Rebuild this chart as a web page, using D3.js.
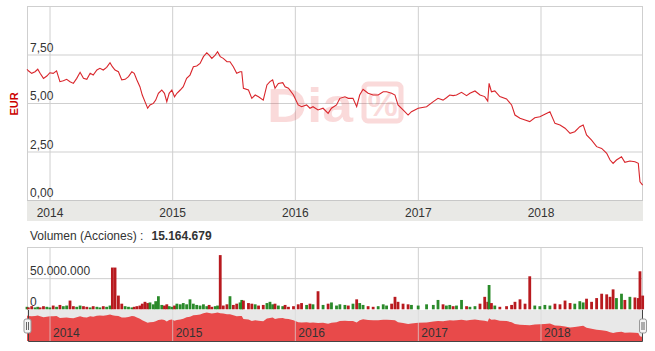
<!DOCTYPE html>
<html>
<head>
<meta charset="utf-8">
<script src="https://cdn.jsdelivr.net/npm/d3@7"></script>
<style>
  body { margin: 0; background: #fff; }
  svg { display: block; font-family: "Liberation Sans", Arial, sans-serif; }
</style>
</head>
<body>
<div id="chart"></div>
<script>
// price readings (EUR) and volumes (millions of shares) at the same dates
var dates = ["2013-10-26","2013-10-30","2013-11-09","2013-11-19","2013-11-27","2013-12-04","2013-12-14","2013-12-24",
  "2014-01-02","2014-01-12","2014-01-22","2014-02-01","2014-02-11","2014-02-21","2014-03-03","2014-03-13","2014-03-23",
  "2014-04-02","2014-04-12","2014-04-22","2014-05-02","2014-05-11","2014-05-22","2014-05-31","2014-06-10","2014-06-20",
  "2014-06-30","2014-07-07","2014-07-15","2014-07-25","2014-08-04","2014-08-14","2014-08-24","2014-09-03","2014-09-10",
  "2014-09-18","2014-09-27","2014-10-04","2014-10-12","2014-10-20","2014-10-27","2014-11-06","2014-11-13","2014-11-21",
  "2014-12-01","2014-12-09","2014-12-16","2014-12-23","2014-12-31","2015-01-08","2015-01-15","2015-01-25","2015-02-03",
  "2015-02-13","2015-02-23","2015-03-05","2015-03-15","2015-03-25","2015-04-04","2015-04-14","2015-04-21","2015-04-29",
  "2015-05-09","2015-05-16","2015-05-24","2015-06-02","2015-06-13","2015-06-22","2015-07-02","2015-07-12","2015-07-22",
  "2015-07-27","2015-08-01","2015-08-16","2015-08-26","2015-09-05","2015-09-15","2015-09-29","2015-10-10","2015-10-19",
  "2015-10-27","2015-11-03","2015-11-13","2015-11-26","2015-12-03","2015-12-13","2015-12-28","2016-01-11","2016-01-21",
  "2016-02-05","2016-02-15","2016-02-24","2016-03-10","2016-03-25","2016-04-09","2016-04-19","2016-05-04","2016-05-14",
  "2016-05-29","2016-06-08","2016-06-22","2016-07-03","2016-07-12","2016-07-22","2016-08-06","2016-08-21","2016-09-05",
  "2016-09-20","2016-09-30","2016-10-15","2016-10-25","2016-11-03","2016-11-18","2016-12-03","2016-12-13","2017-01-02",
  "2017-01-27","2017-02-16","2017-03-02","2017-03-17","2017-03-27","2017-04-06","2017-04-16","2017-04-26","2017-05-11",
  "2017-05-26","2017-06-05","2017-06-20","2017-07-05","2017-07-19","2017-07-28","2017-08-01","2017-08-08","2017-08-18",
  "2017-09-02","2017-09-22","2017-10-07","2017-10-17","2017-11-01","2017-11-16","2017-11-30","2017-12-15","2017-12-30",
  "2018-01-14","2018-01-29","2018-02-13","2018-02-28","2018-03-15","2018-03-30","2018-04-13","2018-04-28","2018-05-08",
  "2018-05-18","2018-06-02","2018-06-17","2018-07-02","2018-07-17","2018-07-27","2018-08-05","2018-08-15","2018-08-30",
  "2018-09-09","2018-09-24","2018-10-09","2018-10-19","2018-10-24","2018-11-01"];

var prices = [6.74,6.66,6.53,6.61,6.74,6.53,6.27,6.39,
  6.56,6.53,6.66,6.10,6.15,6.22,6.10,6.01,6.27,
  6.58,6.27,6.22,6.53,6.44,6.70,6.79,6.70,6.84,
  7.08,6.87,6.70,6.61,6.19,6.22,6.36,6.61,6.53,
  6.19,5.84,5.41,5.07,4.73,4.90,4.98,5.15,5.50,
  5.67,5.50,5.07,5.50,5.67,5.32,5.50,5.67,5.84,
  6.27,6.44,6.87,6.91,7.04,7.39,7.59,7.47,7.30,
  7.47,7.64,7.39,7.30,7.13,7.13,6.87,6.53,6.61,
  6.61,5.76,5.67,5.24,5.41,5.32,5.15,5.93,6.10,
  6.19,5.76,6.01,6.05,5.84,5.76,5.41,4.90,4.81,
  4.90,4.73,4.81,4.64,4.73,4.47,4.73,4.90,5.24,
  5.32,5.24,5.24,4.81,5.41,5.71,5.50,5.41,5.41,
  5.58,5.58,5.50,5.41,4.90,4.64,4.38,4.55,4.73,
  4.81,5.07,5.24,5.15,5.27,5.41,5.38,5.41,5.55,
  5.38,5.50,5.62,5.41,5.33,5.10,6.01,5.58,5.62,
  5.33,5.21,4.90,4.38,4.21,4.12,4.04,4.24,4.29,
  4.42,4.55,3.95,3.87,3.70,3.44,3.52,3.78,3.87,
  3.35,3.09,2.75,2.66,2.41,2.06,1.89,2.06,2.23,
  1.94,2.01,1.97,1.89,0.94,0.77];

var volumes = [4,3,5,3,4,3,5,4,
  3,6,4,7,5,6,14,5,4,
  6,5,4,3,5,4,3,5,4,
  6,67,67,22,9,5,4,3,4,
  5,6,9,12,10,11,8,13,21,
  7,6,8,5,4,6,9,8,10,
  8,16,9,7,6,8,5,7,4,
  5,6,87,6,8,21,7,9,11,
  15,14,10,9,8,6,7,10,12,
  8,9,6,5,7,4,5,8,10,
  7,9,8,29,7,9,11,6,8,
  7,6,9,16,10,7,5,4,5,
  8,6,9,20,12,9,8,7,6,
  8,7,15,8,6,7,5,6,15,
  5,4,5,9,20,12,39,10,6,
  4,5,7,12,16,9,53,6,5,
  7,6,9,8,14,10,9,13,11,
  17,12,18,25,24,20,32,18,25,
  15,20,19,18,61,22];

var yearTicks = ["2014-01-01","2015-01-01","2016-01-01","2017-01-01","2018-01-01"];
var priceTicks = [0, 2.5, 5, 7.5];
var volumeTicks = [0, 50000000];
var lastVolume = 15164679;

var W = 655, H = 351;
var parse = d3.timeParse("%Y-%m-%d");
var loc = d3.formatLocale({decimal: ",", thousands: ".", grouping: [3], currency: ["", " €"]});
var fmtPrice = loc.format(",.2f"), fmtVol = loc.format(",.0f");

var data = dates.map(function(d, i) {
  return {date: parse(d), price: prices[i], vol: volumes[i] * 1e6,
          up: i == 0 ? true : prices[i] >= prices[i - 1]};
});

var left = 27, right = 643;
var x = d3.scaleTime().domain([parse("2013-10-26"), parse("2018-11-02")]).range([left, right]);
var y = d3.scaleLinear().domain([0, 10]).range([200, 6]);
var yv = d3.scaleLinear().domain([0, 100e6]).range([309.3, 247]);
var yn = d3.scaleLinear().domain([0.75, 7.75]).range([337, 312]);
var years = yearTicks.map(parse);

var svg = d3.select("#chart").append("svg").attr("width", W).attr("height", H);
var grid = "#cfcfcf", txt = "#333";

// ---- price panel
svg.append("g")
  .call(d3.axisLeft(y).tickValues([0, 2.5, 5, 7.5, 10]).tickSize(-(right - left)).tickFormat(""))
  .attr("transform", "translate(" + left + ",0)")
  .call(function(g) { g.select(".domain").remove(); g.selectAll("line").attr("stroke", grid); });

svg.append("g").attr("transform", "translate(0,200)")
  .call(d3.axisBottom(x).tickValues(years).tickSize(-194).tickFormat(""))
  .call(function(g) { g.select(".domain").remove(); g.selectAll("line").attr("stroke", grid); });

svg.append("line").attr("x1", left + 0.5).attr("x2", left + 0.5).attr("y1", 6).attr("y2", 200).attr("stroke", grid);
svg.append("line").attr("x1", right - 0.5).attr("x2", right - 0.5).attr("y1", 6).attr("y2", 200).attr("stroke", grid);

svg.selectAll(".plab").data(priceTicks).enter().append("text")
  .attr("x", 30).attr("y", function(d) { return y(d) - 3; })
  .attr("font-size", 12).attr("fill", txt).text(fmtPrice);

svg.append("text").attr("transform", "translate(17.5,104) rotate(-90)")
  .attr("text-anchor", "middle").attr("font-size", 11).attr("font-weight", "bold")
  .attr("fill", "#cc0000").text("EUR");

// watermark
var wm = svg.append("g").attr("opacity", 0.18);
wm.append("text").attr("x", 267).attr("y", 122).attr("font-size", 48).attr("font-weight", "bold")
  .attr("textLength", 86).attr("lengthAdjust", "spacingAndGlyphs").attr("fill", "#e8363a").text("Dia");
wm.append("rect").attr("x", 364).attr("y", 84).attr("width", 37).attr("height", 37).attr("rx", 4)
  .attr("fill", "none").attr("stroke", "#e8363a").attr("stroke-width", 5);
wm.append("text").attr("x", 382.5).attr("y", 116).attr("text-anchor", "middle").attr("font-size", 34)
  .attr("font-weight", "bold").attr("fill", "#e8363a").text("%");

svg.append("path").datum(data)
  .attr("fill", "none").attr("stroke", "#d9252b").attr("stroke-width", 1.1)
  .attr("d", d3.line().x(function(d) { return x(d.date); }).y(function(d) { return y(d.price); }));

// x axis band
svg.append("rect").attr("x", left).attr("y", 200).attr("width", right - left).attr("height", 21).attr("fill", "#e9e9e6");
svg.append("line").attr("x1", left).attr("x2", right).attr("y1", 200.5).attr("y2", 200.5).attr("stroke", "#c8c8c8");
svg.append("g").attr("transform", "translate(0,200)")
  .call(d3.axisBottom(x).tickValues(years).tickSize(0).tickPadding(8).tickFormat(d3.timeFormat("%Y")))
  .call(function(g) {
    g.select(".domain").remove();
    g.selectAll("text").attr("font-size", 12).attr("fill", txt).attr("font-family", "Liberation Sans, Arial");
  });

// ---- volume panel
var vt = svg.append("text").attr("x", 30).attr("y", 240).attr("font-size", 12).attr("fill", txt);
vt.append("tspan").text("Volumen (Acciones) :  ");
vt.append("tspan").attr("font-weight", "bold").attr("x", 151.5).text(fmtVol(lastVolume));

svg.append("g").attr("transform", "translate(" + left + ",0)")
  .call(d3.axisLeft(yv).tickValues([50e6, 100e6]).tickSize(-(right - left)).tickFormat(""))
  .call(function(g) { g.select(".domain").remove(); g.selectAll("line").attr("stroke", grid); });
svg.append("g").attr("transform", "translate(0,310)")
  .call(d3.axisBottom(x).tickValues(years).tickSize(-63).tickFormat(""))
  .call(function(g) { g.select(".domain").remove(); g.selectAll("line").attr("stroke", grid); });
svg.append("line").attr("x1", left + 0.5).attr("x2", left + 0.5).attr("y1", 247).attr("y2", 310).attr("stroke", grid);
svg.append("line").attr("x1", right - 0.5).attr("x2", right - 0.5).attr("y1", 247).attr("y2", 310).attr("stroke", grid);

svg.selectAll(".vlab").data(volumeTicks).enter().append("text")
  .attr("x", 30).attr("y", function(d) { return yv(d) - 3; })
  .attr("font-size", 12).attr("fill", txt).text(fmtVol);

svg.append("g").selectAll("rect").data(data).enter().append("rect")
  .attr("x", function(d) { return x(d.date) - 1.4; })
  .attr("width", 2.8)
  .attr("y", function(d) { return yv(d.vol); })
  .attr("height", function(d) { return yv(0) - yv(d.vol); })
  .attr("fill", function(d) { return d.up ? "#2a8a2a" : "#b81a1f"; });

// ---- navigator
svg.append("rect").attr("x", left).attr("y", 310).attr("width", right - left).attr("height", 31).attr("fill", "#e8e8e8");
svg.append("path").datum(data).attr("fill", "#e84a4a")
  .attr("d", d3.area().x(function(d) { return x(d.date); }).y0(341).y1(function(d) { return yn(d.price); }));
svg.append("g").attr("transform", "translate(0,341)")
  .call(d3.axisBottom(x).tickValues(years).tickSize(-31).tickFormat(""))
  .call(function(g) { g.select(".domain").remove(); g.selectAll("line").attr("stroke", "#d8d8d8").attr("stroke-opacity", 0.7); });
svg.selectAll(".nlab").data(years).enter().append("text")
  .attr("x", function(d) { return x(d) + 3.5; }).attr("y", 337)
  .attr("font-size", 12).attr("fill", txt).text(d3.timeFormat("%Y"));

svg.append("path").attr("fill", "none").attr("stroke", "#444").attr("stroke-width", 1)
  .attr("d", "M" + (left + 1.5) + ",310V341.5H" + (right - 0.5) + "V310");

[left + 0.5, right].forEach(function(hx) {
  var g = svg.append("g").attr("transform", "translate(" + hx + ",326)");
  g.append("rect").attr("x", -3.5).attr("y", -7).attr("width", 7).attr("height", 14).attr("rx", 2)
    .attr("fill", "#f4f4f4").attr("stroke", "#999");
  g.append("line").attr("x1", -1).attr("x2", -1).attr("y1", -4).attr("y2", 4).attr("stroke", "#666");
  g.append("line").attr("x1", 1).attr("x2", 1).attr("y1", -4).attr("y2", 4).attr("stroke", "#666");
});
</script>
</body>
</html>
